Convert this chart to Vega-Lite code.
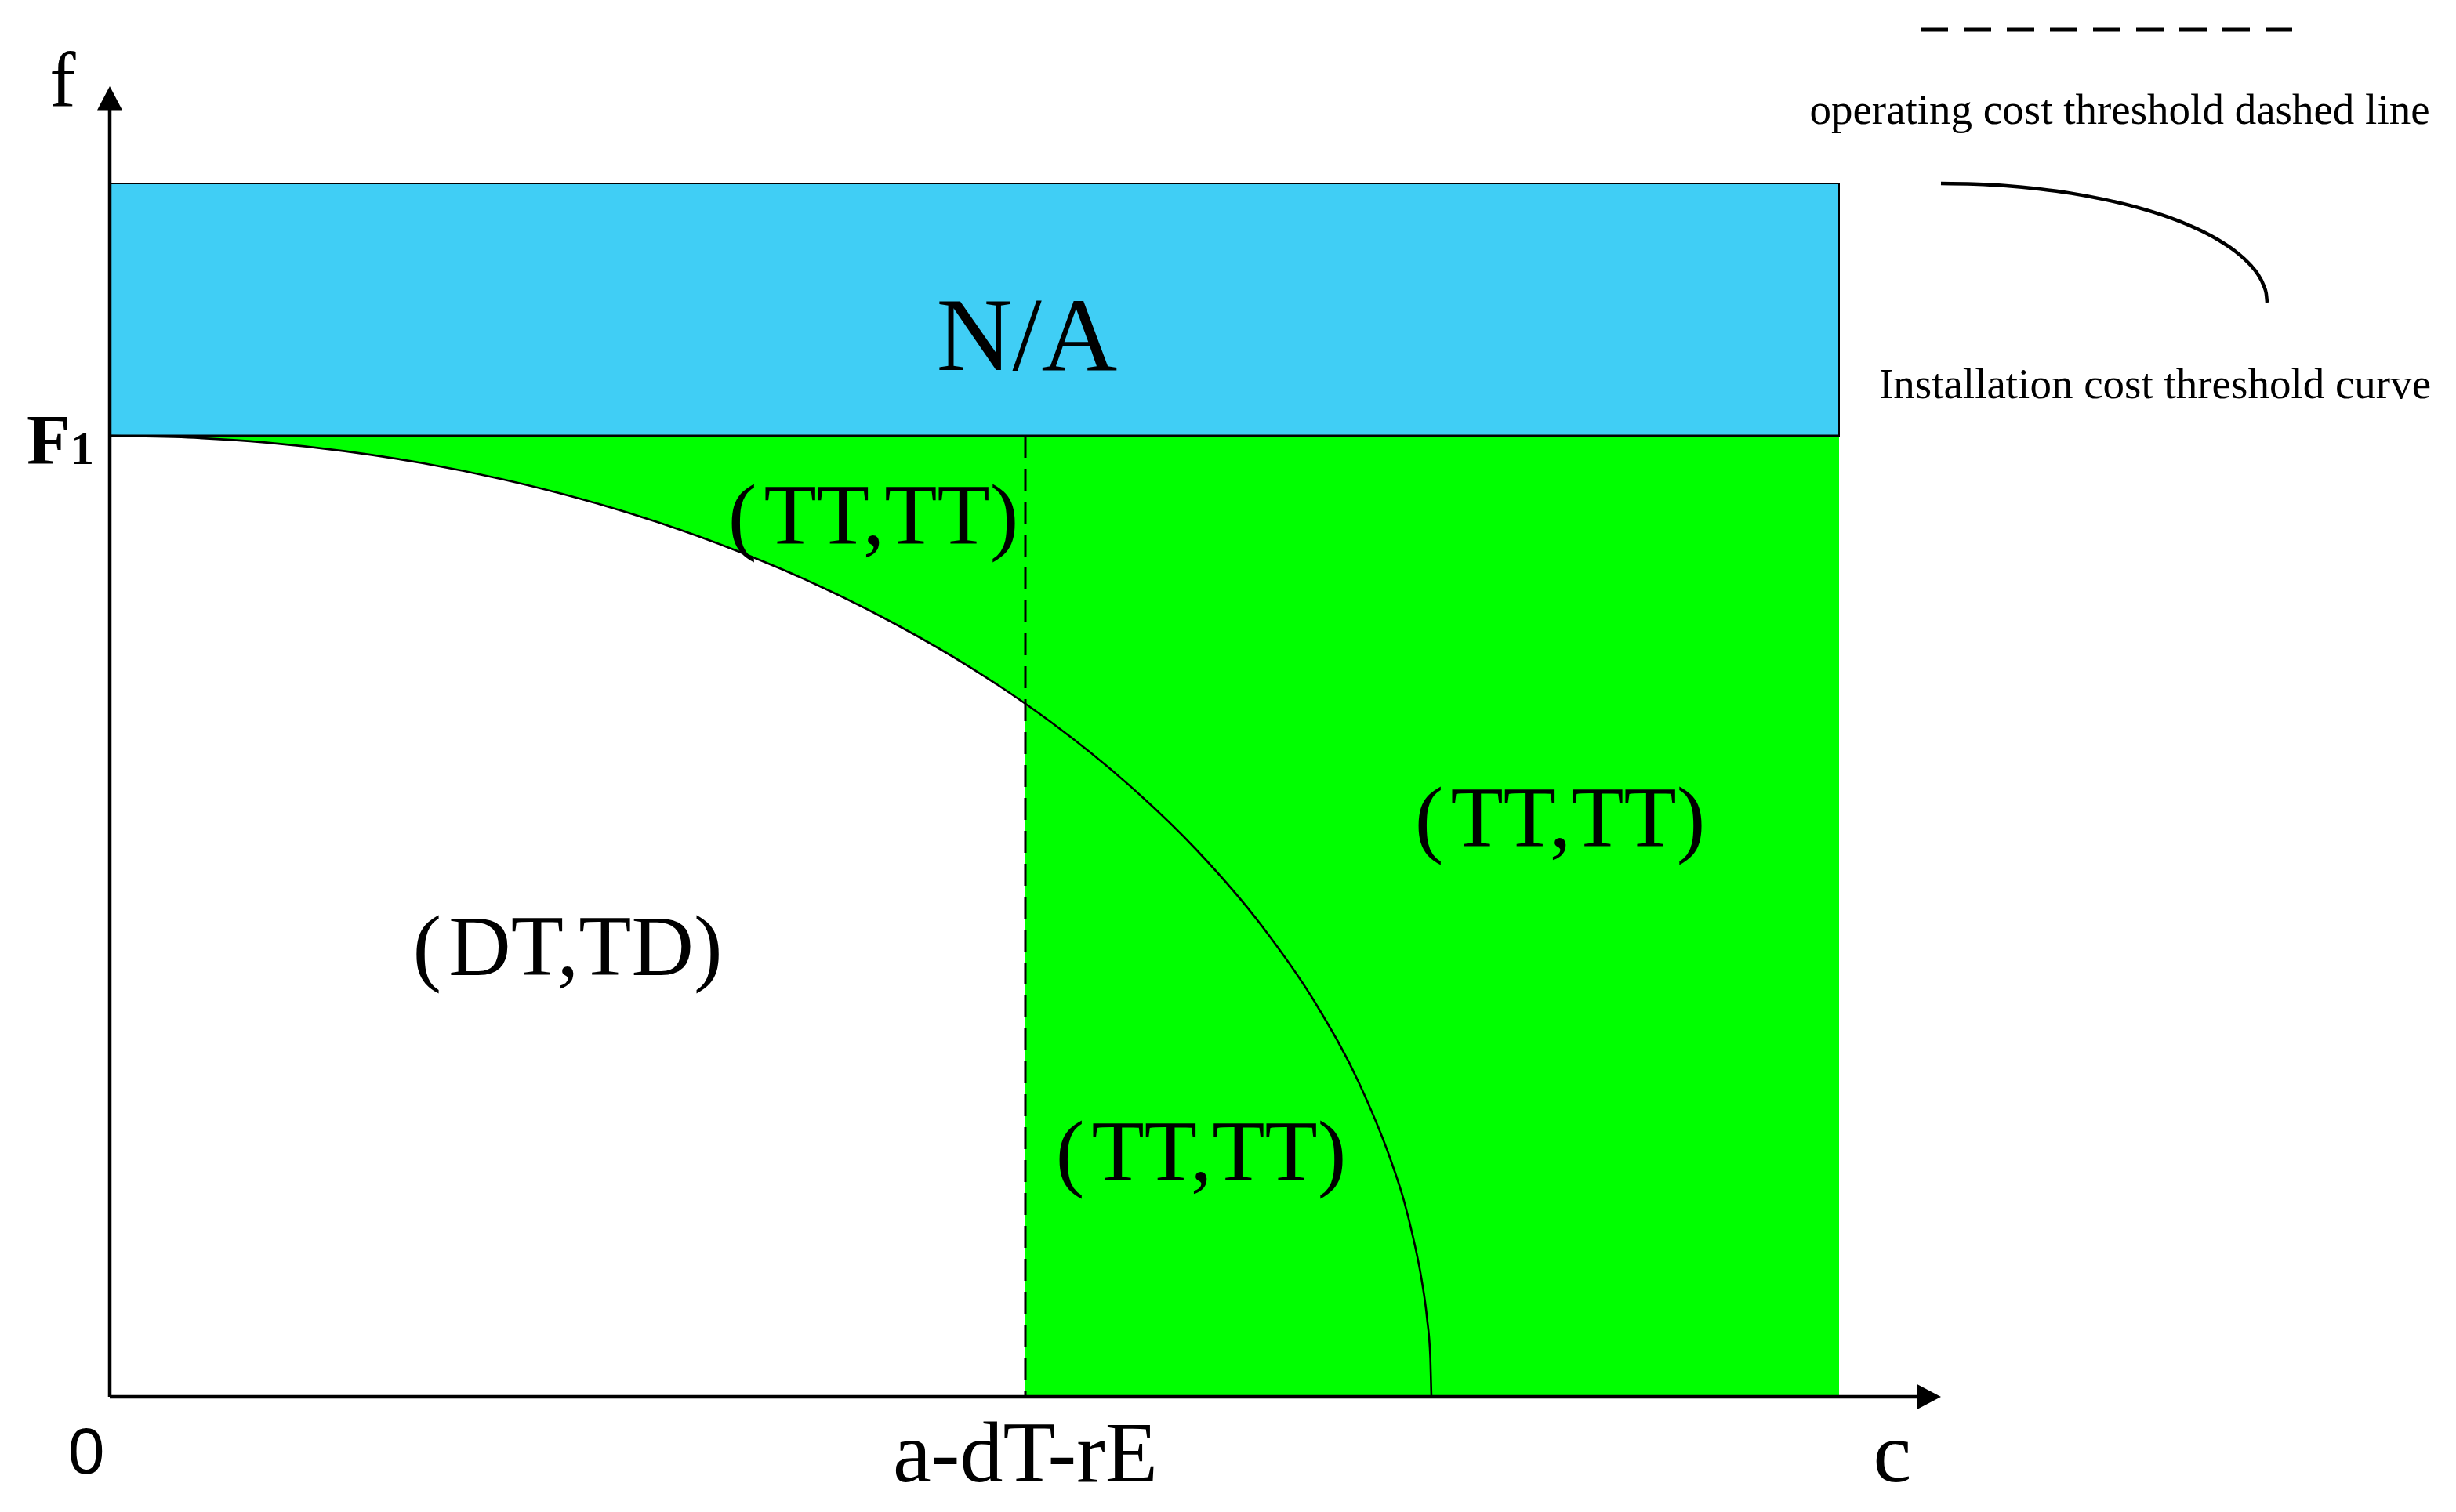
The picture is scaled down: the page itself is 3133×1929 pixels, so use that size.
{
  "$schema": "https://vega.github.io/schema/vega-lite/v6.json",
  "autosize": {"type": "none"},
  "width": 2336,
  "height": 1672,
  "padding": {"left": 140, "top": 110, "right": 657, "bottom": 147},
  "background": "white",
  "config": {"view": {"stroke": null}},
  "datasets": {
    "blue": [{"x": 0, "x2": 1103, "y": 613, "y2": 774}],
    "greenRect": [{"x": 584, "x2": 1103, "y": 0, "y2": 613}],
    "curve": [
      {"x": 0, "y": 613, "y2": 613},
      {"x": 50, "y": 611.9, "y2": 613},
      {"x": 100, "y": 608.7, "y2": 613},
      {"x": 150, "y": 603.2, "y2": 613},
      {"x": 200, "y": 595.5, "y2": 613},
      {"x": 250, "y": 585.4, "y2": 613},
      {"x": 300, "y": 572.9, "y2": 613},
      {"x": 350, "y": 557.7, "y2": 613},
      {"x": 400, "y": 539.6, "y2": 613},
      {"x": 450, "y": 518.4, "y2": 613},
      {"x": 500, "y": 493.5, "y2": 613},
      {"x": 550, "y": 464.6, "y2": 613},
      {"x": 584, "y": 442.1, "y2": 613},
      {"x": 600, "y": 430.6, "y2": 613},
      {"x": 650, "y": 390.3, "y2": 613},
      {"x": 692.1, "y": 350, "y2": 613},
      {"x": 735.1, "y": 300, "y2": 613},
      {"x": 769.7, "y": 250, "y2": 613},
      {"x": 796.9, "y": 200, "y2": 613},
      {"x": 817.4, "y": 150, "y2": 613},
      {"x": 825.5, "y": 125, "y2": 613},
      {"x": 831.7, "y": 100, "y2": 613},
      {"x": 836.7, "y": 75, "y2": 613},
      {"x": 840.2, "y": 50, "y2": 613},
      {"x": 842.3, "y": 25, "y2": 613},
      {"x": 843, "y": 0, "y2": 613}
    ],
    "axes": [
      {"x": 0, "x2": 0, "y": 0, "y2": 824},
      {"x": 0, "x2": 1156, "y": 0, "y2": 0}
    ],
    "f1line": [{"x": 0, "x2": 1103, "y": 613, "y2": 613}],
    "dashed": [{"x": 584, "x2": 584, "y": 613, "y2": 0}],
    "legendDash": [{"x": 1155, "x2": 1392, "y": 872, "y2": 872}],
    "legendCurve": [
      {"x": 1168, "y": 774},
      {"x": 1188.8, "y": 773.6},
      {"x": 1209.6, "y": 772.5},
      {"x": 1230.4, "y": 770.5},
      {"x": 1251.2, "y": 767.7},
      {"x": 1272, "y": 763.8},
      {"x": 1292.8, "y": 758.8},
      {"x": 1313.6, "y": 752.3},
      {"x": 1334.4, "y": 743.6},
      {"x": 1344.8, "y": 738.0},
      {"x": 1355.2, "y": 731.1},
      {"x": 1361.4, "y": 725.9},
      {"x": 1365.6, "y": 721.7},
      {"x": 1369.8, "y": 716.5},
      {"x": 1373.9, "y": 708.7},
      {"x": 1375.4, "y": 703.9},
      {"x": 1376, "y": 698}
    ],
    "arrowUp": [{"x": 0, "y": 836}],
    "arrowRight": [{"x": 1168, "y": 0}],
    "regionLabels": [
      {"x": 487, "y": 544, "text": "(\u200aTT,TT)"},
      {"x": 925, "y": 351, "text": "(\u200aTT,TT)"},
      {"x": 696, "y": 138, "text": "(\u200aTT,TT)"},
      {"x": 292, "y": 269, "text": "(\u200aDT,TD)"},
      {"x": 584, "y": -54, "text": "a-dT-rE"},
      {"x": 1137, "y": -54, "text": "c"}
    ],
    "naLabel": [{"x": 585, "y": 655, "text": "N/A"}],
    "fLabel": [{"x": -30, "y": 823, "text": "f"}],
    "FLabel": [{"x": -53, "y": 595, "text": "F"}],
    "oneLabel": [{"x": -25, "y": 595, "text": "1"}],
    "zeroLabel": [{"x": -15, "y": -49, "text": "0"}],
    "legendLabels": [
      {"x": 1282, "y": 812, "text": "operating cost threshold dashed line"},
      {"x": 1304.5, "y": 637, "text": "Installation cost threshold curve"}
    ]
  },
  "encoding": {
    "x": {"field": "x", "type": "quantitative", "scale": {"domain": [0, 1168], "nice": false, "zero": false}, "axis": null},
    "y": {"field": "y", "type": "quantitative", "scale": {"domain": [0, 836], "nice": false, "zero": false}, "axis": null}
  },
  "layer": [
    {
      "data": {"name": "blue"},
      "mark": {"type": "rect", "fill": "#40CEF5", "stroke": "black", "strokeWidth": 2},
      "encoding": {"x2": {"field": "x2"}, "y2": {"field": "y2"}}
    },
    {
      "data": {"name": "greenRect"},
      "mark": {"type": "rect", "fill": "#00FF00"},
      "encoding": {"x2": {"field": "x2"}, "y2": {"field": "y2"}}
    },
    {
      "data": {"name": "curve"},
      "transform": [{"filter": "datum.x <= 584"}],
      "mark": {"type": "area", "fill": "#00FF00", "interpolate": "monotone"},
      "encoding": {"y2": {"field": "y2"}}
    },
    {
      "data": {"name": "curve"},
      "mark": {"type": "line", "color": "black", "strokeWidth": 2.6, "interpolate": "monotone"},
      "encoding": {}
    },
    {
      "data": {"name": "f1line"},
      "mark": {"type": "rule", "color": "black", "strokeWidth": 3},
      "encoding": {"x2": {"field": "x2"}, "y2": {"field": "y2"}}
    },
    {
      "data": {"name": "dashed"},
      "mark": {"type": "rule", "color": "black", "strokeWidth": 3, "strokeDash": [28, 14]},
      "encoding": {"x2": {"field": "x2"}, "y2": {"field": "y2"}}
    },
    {
      "data": {"name": "axes"},
      "mark": {"type": "rule", "color": "black", "strokeWidth": 4.5},
      "encoding": {"x2": {"field": "x2"}, "y2": {"field": "y2"}}
    },
    {
      "data": {"name": "arrowUp"},
      "mark": {"type": "point", "shape": "M0,0L1,1.9L-1,1.9Z", "size": 1024, "filled": true, "color": "black", "opacity": 1}
    },
    {
      "data": {"name": "arrowRight"},
      "mark": {"type": "point", "shape": "M0,0L-1.9,-1L-1.9,1Z", "size": 1024, "filled": true, "color": "black", "opacity": 1}
    },
    {
      "data": {"name": "legendDash"},
      "mark": {"type": "rule", "color": "black", "strokeWidth": 5, "strokeDash": [35, 20]},
      "encoding": {"x2": {"field": "x2"}, "y2": {"field": "y2"}}
    },
    {
      "data": {"name": "legendCurve"},
      "mark": {"type": "line", "color": "black", "strokeWidth": 4.5, "interpolate": "monotone"},
      "encoding": {}
    },
    {
      "data": {"name": "regionLabels"},
      "mark": {"type": "text", "font": "Liberation Serif", "fontSize": 110, "align": "center", "baseline": "alphabetic", "color": "black"},
      "encoding": {"text": {"field": "text"}}
    },
    {
      "data": {"name": "naLabel"},
      "mark": {"type": "text", "font": "Liberation Serif", "fontSize": 134, "align": "center", "baseline": "alphabetic", "color": "black"},
      "encoding": {"text": {"field": "text"}}
    },
    {
      "data": {"name": "fLabel"},
      "mark": {"type": "text", "font": "Liberation Serif", "fontSize": 100, "align": "center", "baseline": "alphabetic", "color": "black"},
      "encoding": {"text": {"field": "text"}}
    },
    {
      "data": {"name": "FLabel"},
      "mark": {"type": "text", "font": "Liberation Serif", "fontWeight": "bold", "fontSize": 92, "align": "left", "baseline": "alphabetic", "color": "black"},
      "encoding": {"text": {"field": "text"}}
    },
    {
      "data": {"name": "oneLabel"},
      "mark": {"type": "text", "font": "Liberation Serif", "fontWeight": "bold", "fontSize": 60, "align": "left", "baseline": "alphabetic", "color": "black"},
      "encoding": {"text": {"field": "text"}}
    },
    {
      "data": {"name": "zeroLabel"},
      "mark": {"type": "text", "font": "Liberation Sans", "fontSize": 84, "align": "center", "baseline": "alphabetic", "color": "black"},
      "encoding": {"text": {"field": "text"}}
    },
    {
      "data": {"name": "legendLabels"},
      "mark": {"type": "text", "font": "Liberation Serif", "fontSize": 55, "align": "center", "baseline": "alphabetic", "color": "black"},
      "encoding": {"text": {"field": "text"}}
    }
  ]
}
